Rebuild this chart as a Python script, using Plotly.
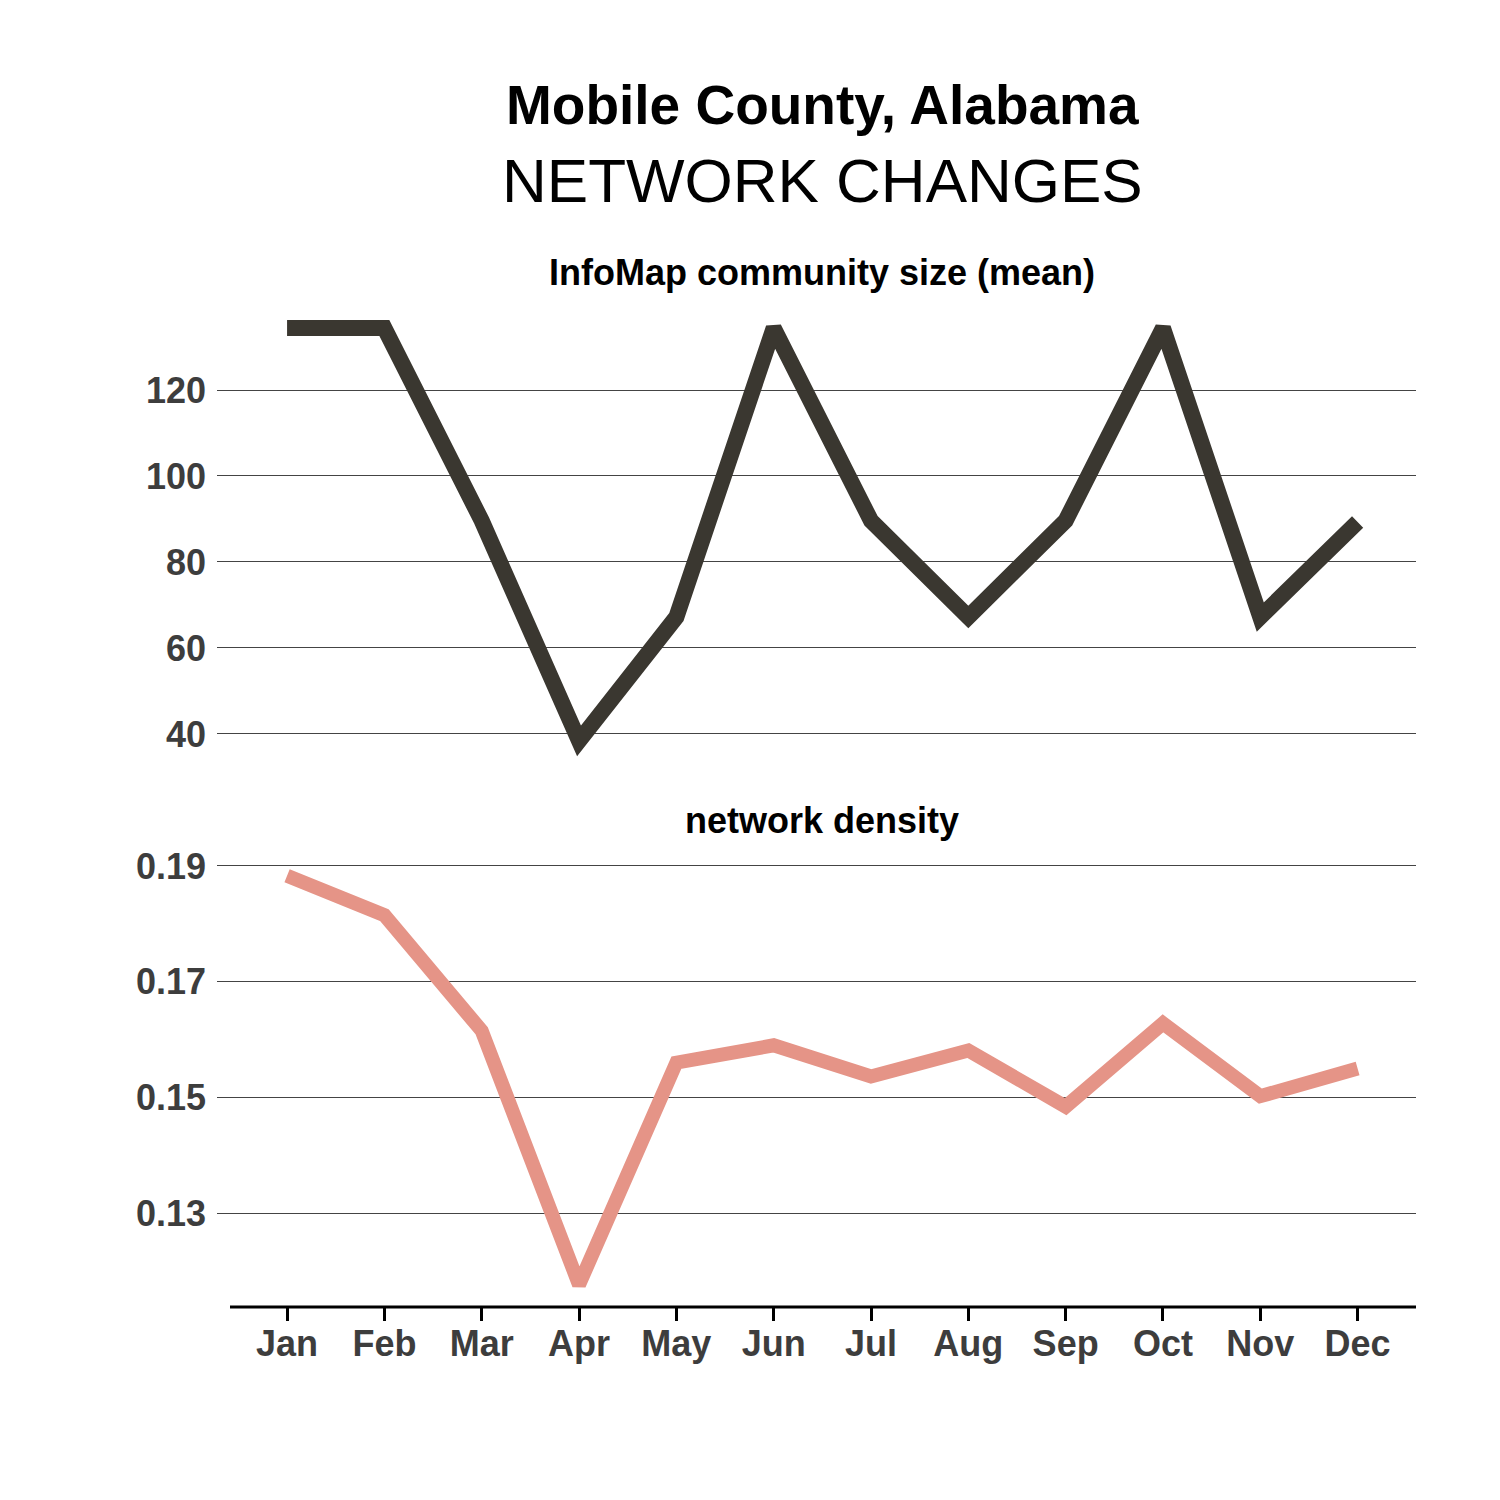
import plotly.graph_objects as go

months = ["Jan", "Feb", "Mar", "Apr", "May", "Jun", "Jul", "Aug", "Sep", "Oct", "Nov", "Dec"]
community_size = [134.4, 134.4, 89.6, 38.4, 67.2, 134.4, 89.6, 67.2, 89.6, 134.4, 67.2, 89.3]
density = [0.1883, 0.1815, 0.1615, 0.1176, 0.1560, 0.1590, 0.1536, 0.1581, 0.1484, 0.1628, 0.1502, 0.1550]

top_ticks = [40, 60, 80, 100, 120]
bottom_ticks = [0.13, 0.15, 0.17, 0.19]

FONT = "Liberation Sans, Arial, sans-serif"
TICKC = "#3d3d3d"
GRIDC = "#444444"

fig = go.Figure()
fig.add_trace(go.Scatter(x=months, y=community_size, mode="lines",
                         line=dict(color="#3a3730", width=16),
                         xaxis="x", yaxis="y", showlegend=False))
fig.add_trace(go.Scatter(x=months, y=density, mode="lines",
                         line=dict(color="#e59487", width=14),
                         xaxis="x2", yaxis="y2", showlegend=False))

W = H = 1500
OFF = 8  # page offset of the rendered figure


def px_x(v):
    return (v - OFF) / W


def px_y(v):
    return 1 - (v - OFF) / H


xdom = [px_x(217), px_x(1416)]
xr = [-0.72, 11.6]

fig.update_layout(
    width=W, height=H,
    margin=dict(l=0, r=0, t=0, b=0),
    paper_bgcolor="white", plot_bgcolor="white",
    font=dict(family=FONT),
    xaxis=dict(domain=xdom, range=xr, showticklabels=False, showgrid=False,
               zeroline=False, showline=False, ticks="", anchor="y",
               categoryorder="array", categoryarray=months),
    yaxis=dict(domain=[px_y(760), px_y(300)], range=[33.95, 140.93],
               tickvals=top_ticks, showgrid=True, gridcolor=GRIDC, gridwidth=1,
               zeroline=False, showline=False, ticks="",
               ticklabelstandoff=10,
               tickfont=dict(family=FONT, size=36, color=TICKC, weight="bold"),
               anchor="x"),
    xaxis2=dict(domain=xdom, range=xr, showgrid=False, zeroline=False,
                showline=False,
                ticks="outside", ticklen=13, tickwidth=3, tickcolor="black",
                ticklabelstandoff=-8,
                tickfont=dict(family=FONT, size=36, color=TICKC, weight="bold"),
                anchor="y2", categoryorder="array", categoryarray=months),
    yaxis2=dict(domain=[px_y(1307), px_y(845)], range=[0.11375, 0.19363],
                tickvals=bottom_ticks, tickformat=".2f",
                showgrid=True, gridcolor=GRIDC, gridwidth=1,
                zeroline=False, showline=False, ticks="",
                ticklabelstandoff=10,
                tickfont=dict(family=FONT, size=36, color=TICKC, weight="bold"),
                anchor="x2"),
    shapes=[
        dict(type="line", xref="paper", yref="y2 domain",
             x0=px_x(230), x1=px_x(1416), y0=0, y1=0,
             line=dict(color="black", width=3)),
    ],
    annotations=[
        dict(text="<b>Mobile County, Alabama</b>", x=px_x(822), y=px_y(105),
             xref="paper", yref="paper", showarrow=False, xanchor="center", yanchor="middle",
             font=dict(family=FONT, size=55, color="black")),
        dict(text="NETWORK CHANGES", x=px_x(822), y=px_y(180),
             xref="paper", yref="paper", showarrow=False, xanchor="center", yanchor="middle",
             font=dict(family=FONT, size=62, color="black")),
        dict(text="<b>InfoMap community size (mean)</b>", x=px_x(822), y=px_y(273),
             xref="paper", yref="paper", showarrow=False, xanchor="center", yanchor="middle",
             font=dict(family=FONT, size=36, color="black")),
        dict(text="<b>network density</b>", x=px_x(822), y=px_y(820),
             xref="paper", yref="paper", showarrow=False, xanchor="center", yanchor="middle",
             font=dict(family=FONT, size=36, color="black")),
    ],
)

fig.write_html("out.html")
